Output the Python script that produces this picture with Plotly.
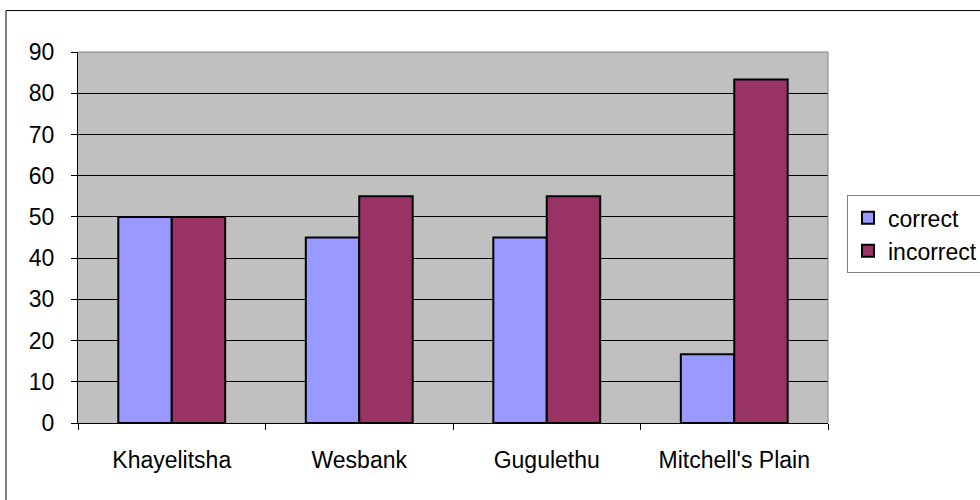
import plotly.graph_objects as go

categories = ["Khayelitsha", "Wesbank", "Gugulethu", "Mitchell's Plain"]
correct = [50, 45, 45, 16.7]
incorrect = [50, 55, 55, 83.3]
y_ticks = [0, 10, 20, 30, 40, 50, 60, 70, 80, 90]

FONT = "Liberation Sans, Arial, sans-serif"

fig = go.Figure()
fig.add_trace(go.Bar(name="correct", x=categories, y=correct, legendgroup="a",
                     marker=dict(color="#9999FF", line=dict(color="black", width=2))))
fig.add_trace(go.Bar(name="incorrect", x=categories, y=incorrect, legendgroup="b",
                     marker=dict(color="#993366", line=dict(color="black", width=2))))

L, R, T, B = 78, 152, 51.5, 77
W, H = 980, 500
pw, ph = W - L - R, H - T - B

fig.update_layout(
    width=W, height=H,
    margin=dict(l=L, r=R, t=T, b=B, pad=0, autoexpand=False),
    paper_bgcolor="white", plot_bgcolor="#C0C0C0",
    barmode="group", bargap=0.43, bargroupgap=0,
    font=dict(family=FONT, size=23, color="black"),
    showlegend=True,
    legend=dict(x=(847 - L) / pw, y=(H - B - 195) / ph, xanchor="left", yanchor="top",
                bgcolor="white", bordercolor="#808080", borderwidth=1,
                font=dict(family=FONT, size=23), tracegroupgap=10,
                itemwidth=30, traceorder="normal"),
    xaxis=dict(showline=True, linecolor="black", linewidth=1, ticks="outside",
               ticklen=6, tickcolor="black", tickson="boundaries", showgrid=False,
               ticklabelstandoff=16, fixedrange=True),
    yaxis=dict(range=[0, 90], tickvals=y_ticks, showline=True, linecolor="black",
               linewidth=1, ticks="outside", ticklen=6, tickcolor="black",
               showgrid=True, gridcolor="black", gridwidth=1, zeroline=False,
               ticklabelstandoff=12, fixedrange=True),
)

# plot area border (gray top and right)
fig.add_shape(type="line", xref="paper", yref="paper", x0=0, x1=1, y0=1, y1=1,
              line=dict(color="#808080", width=1))
fig.add_shape(type="line", xref="paper", yref="paper", x0=1, x1=1, y0=0, y1=1,
              line=dict(color="#808080", width=1))
# outer chart border (extends beyond the image on right/bottom)
fig.add_shape(type="rect", xref="paper", yref="paper",
              x0=(6 - L) / pw, x1=2, y0=-1, y1=(H - B - 10) / ph,
              line=dict(color="black", width=1), layer="below")

fig.write_html("out.html")
